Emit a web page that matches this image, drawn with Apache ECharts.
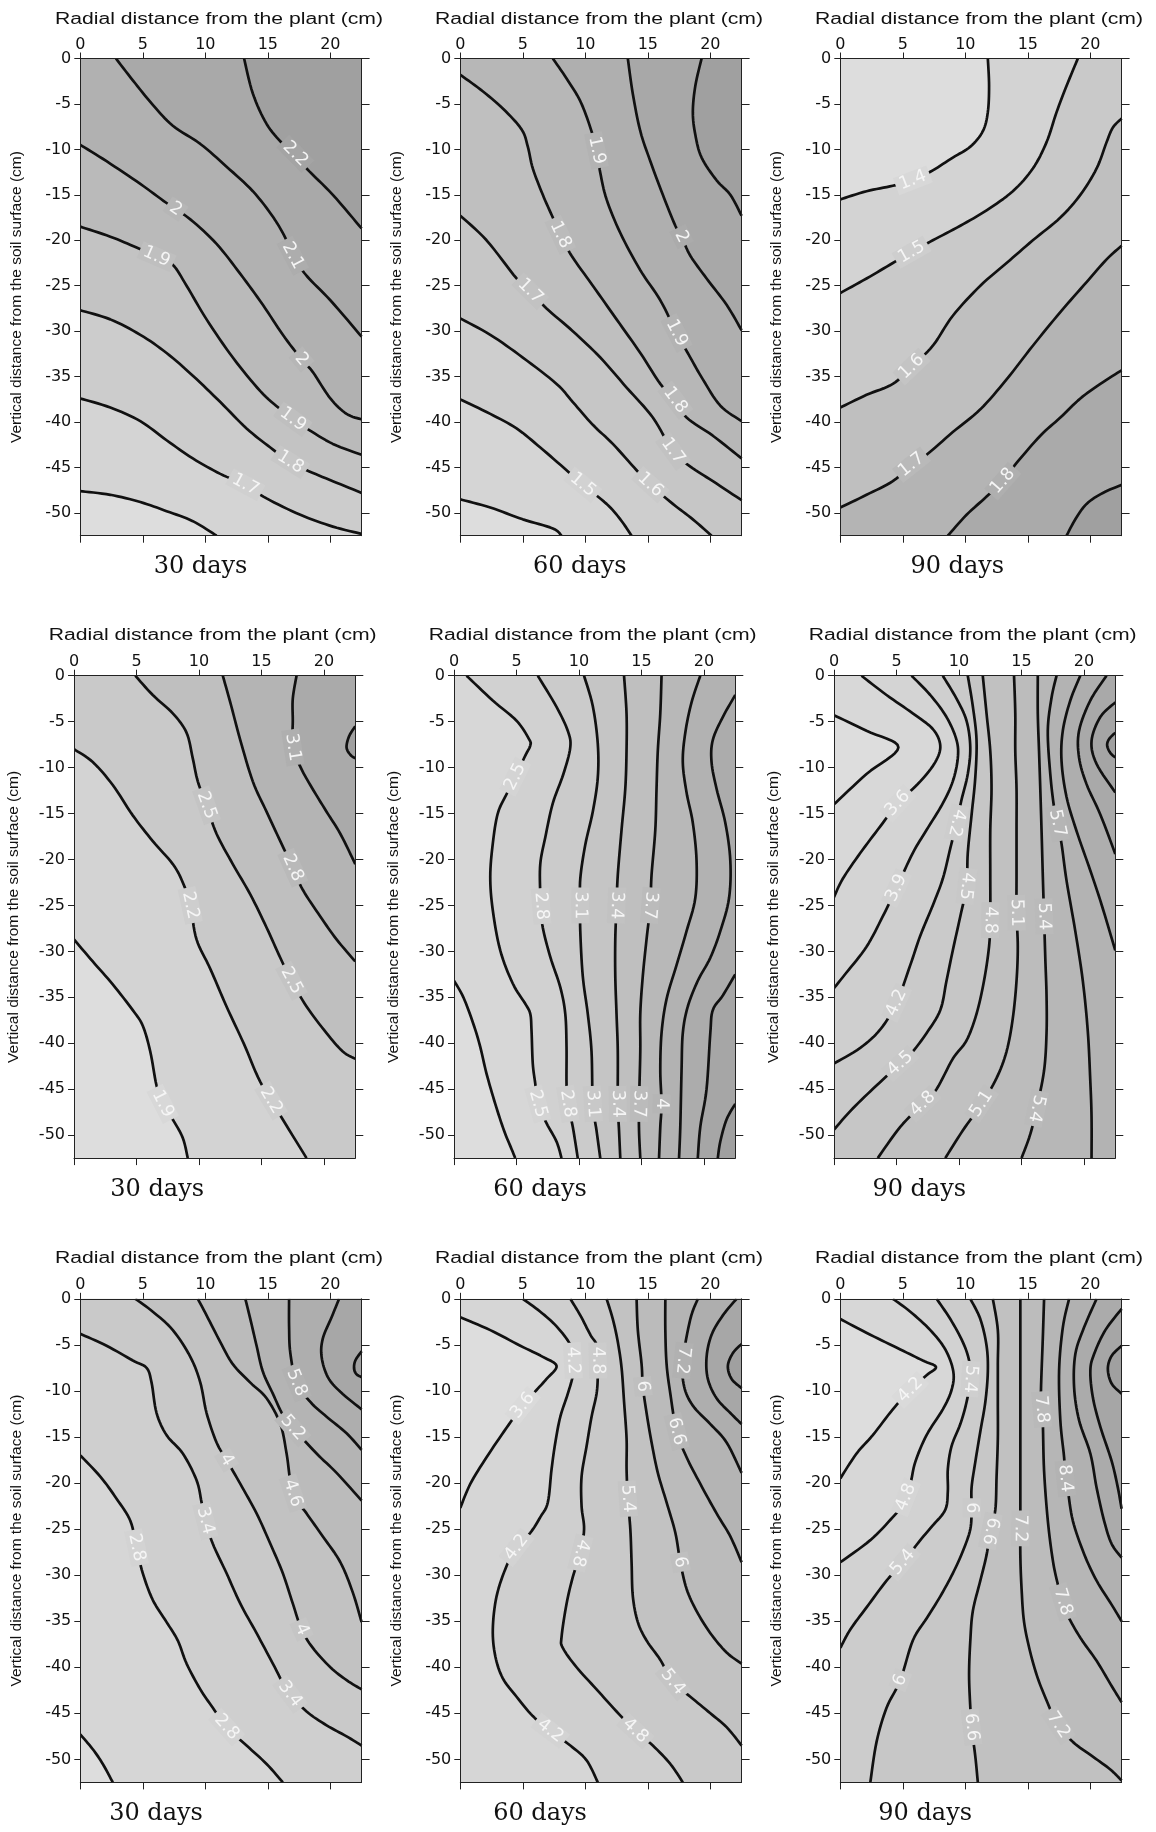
<!DOCTYPE html>
<html><head><meta charset="utf-8">
<script src="https://cdn.jsdelivr.net/npm/echarts@6/dist/echarts.min.js"></script>
<style>html,body{margin:0;padding:0;background:#fff}#c{width:1156px;height:1832px}</style>
</head><body><div id="c"></div><script>
// ---------- axis / text data ----------
const XMAX = 22.5, YMIN = -52.5;
const xTicks = [0, 5, 10, 15, 20];
const yTicks = [0, -5, -10, -15, -20, -25, -30, -35, -40, -45, -50];
const captions = ['30 days', '60 days', '90 days', '30 days', '60 days', '90 days', '30 days', '60 days', '90 days'];
const titleText = 'Radial distance from the plant (cm)';
const yNameText = 'Vertical distance from the soil surface (cm)';

// ---------- panel 1 (row 1, 30 days) ----------
const p1Levels = [1.6, 1.7, 1.8, 1.9, 2.0, 2.1, 2.2];
const p1Lines = [
  [[0,-47.6],[2.4,-48.0],[4.8,-48.8],[6.9,-49.8],[9.0,-50.9],[10.9,-52.5]],
  [[0,-37.4],[2.4,-38.4],[4.8,-39.9],[6.9,-42.0],[9.0,-44.0],[11.2,-45.7],[13.2,-46.9],[14.9,-48.4],[17.6,-50.2],[20.2,-51.5],[22.5,-52.3]],
  [[0,-27.7],[2.4,-28.7],[4.8,-30.4],[6.9,-32.4],[9.0,-34.9],[11.2,-37.8],[13.3,-40.7],[15.2,-42.8],[16.8,-44.4],[18.1,-45.3],[20.2,-46.5],[22.5,-47.8]],
  [[0,-18.5],[2.4,-19.6],[4.5,-20.8],[6.1,-21.8],[7.4,-22.7],[8.5,-25.0],[10.1,-28.7],[12.2,-32.9],[14.4,-36.6],[16.0,-38.6],[17.0,-39.7],[18.1,-40.7],[20.2,-42.4],[22.5,-43.6]],
  [[0,-9.5],[2.1,-11.3],[4.8,-13.8],[6.9,-15.9],[8.8,-17.7],[10.9,-20.4],[12.8,-23.7],[14.6,-27.1],[16.2,-30.4],[17.7,-33.1],[18.6,-34.5],[20.0,-37.4],[21.3,-39.1],[22.5,-39.7]],
  [[2.85,0],[4.2,-2.4],[5.8,-5.1],[7.4,-7.4],[9.6,-9.4],[11.7,-11.9],[13.8,-14.6],[15.45,-17.5],[16.5,-20.0],[17.0,-21.7],[18.1,-23.9],[20.0,-26.6],[22.5,-30.6]],
  [[13.1,0],[13.8,-3.85],[14.9,-7.2],[16.2,-9.4],[17.2,-10.5],[18.1,-12.1],[20.2,-15.0],[22.5,-18.7]]
];
const p1Labels = [[2.2,17.2,-10.5],[2.0,7.8,-16.5],[1.9,6.1,-21.9],[2.1,17.0,-21.7],[2.0,17.7,-33.1],[1.9,17.0,-39.7],[1.8,16.8,-44.4],[1.7,13.2,-46.9]];

// ---------- panel 2 (row 1, 60 days) ----------
const p2Levels = [1.4, 1.5, 1.6, 1.7, 1.8, 1.9, 2.0, 2.1];
const p2Lines = [
  [[0,-48.5],[2.4,-49.4],[5.0,-50.7],[7.4,-51.7],[8.1,-52.5]],
  [[0,-37.5],[2.4,-39.1],[4.5,-40.7],[6.4,-42.8],[8.5,-45.3],[9.8,-46.9],[11.7,-49.0],[12.8,-50.7],[13.7,-52.5]],
  [[0,-28.6],[2.4,-30.4],[5.0,-32.9],[7.7,-35.8],[9.0,-37.8],[10.6,-40.3],[12.2,-42.4],[14.1,-45.3],[15.2,-46.9],[17.0,-49.0],[18.6,-50.7],[20.1,-52.5]],
  [[0,-17.3],[2.1,-20.0],[4.5,-24.2],[5.6,-25.6],[6.9,-27.5],[9.0,-30.0],[11.2,-32.9],[13.3,-36.2],[15.4,-39.5],[17.0,-43.2],[18.4,-44.9],[20.2,-46.5],[22.5,-48.6]],
  [[0,-1.8],[1.6,-3.4],[3.4,-5.5],[4.9,-7.8],[5.4,-9.7],[5.8,-12.1],[6.6,-15.0],[7.4,-17.5],[8.0,-19.4],[8.9,-21.7],[10.6,-25.0],[12.5,-28.7],[14.4,-32.4],[16.0,-35.8],[17.2,-37.6],[18.1,-39.5],[20.2,-41.5],[22.5,-44.0]],
  [[7.4,0],[8.5,-2.2],[9.6,-4.7],[10.4,-7.6],[10.9,-10.1],[11.2,-12.6],[11.7,-15.5],[12.8,-19.2],[14.4,-23.3],[16.0,-26.6],[17.3,-30.2],[18.4,-32.9],[19.4,-35.3],[20.8,-38.2],[22.5,-39.9]],
  [[13.4,0],[13.8,-3.9],[14.4,-8.0],[15.2,-11.3],[16.2,-15.0],[17.2,-18.4],[17.7,-19.6],[18.4,-21.7],[19.7,-24.2],[21.3,-27.1],[22.5,-29.9]],
  [[19.3,0],[18.8,-3.0],[18.6,-5.9],[18.8,-8.4],[19.3,-10.9],[20.5,-13.4],[21.6,-15.0],[22.5,-17.3]]
];
const p2Labels = [[1.9,10.9,-10.1],[1.8,8.0,-19.4],[2.0,17.7,-19.6],[1.7,5.6,-25.6],[1.9,17.3,-30.2],[1.8,17.2,-37.6],[1.7,17.0,-43.2],[1.6,15.2,-46.9],[1.5,9.8,-46.9]];

// ---------- panel 3 (row 1, 90 days) ----------
const p3Levels = [1.4, 1.5, 1.6, 1.7, 1.8, 1.9];
const p3Lines = [
  [[11.8,0],[11.9,-3.0],[11.8,-5.9],[11.4,-8.0],[10.4,-9.7],[9.0,-10.9],[7.4,-12.3],[5.8,-13.4],[4.2,-14.0],[2.1,-14.6],[0,-15.5]],
  [[19.0,0],[18.1,-3.0],[17.3,-5.9],[16.5,-9.2],[15.4,-12.1],[13.8,-14.6],[11.7,-16.7],[9.6,-18.4],[7.4,-20.0],[5.7,-21.3],[4.2,-22.5],[2.1,-24.2],[0,-25.8]],
  [[22.5,-6.6],[21.8,-7.6],[21.3,-9.2],[20.5,-12.1],[19.2,-15.0],[17.6,-17.5],[15.4,-20.0],[13.3,-22.5],[11.2,-25.0],[9.0,-28.3],[7.4,-31.6],[5.7,-33.9],[4.2,-35.8],[2.1,-37.0],[0,-38.4]],
  [[22.5,-20.6],[21.3,-22.1],[19.7,-24.6],[17.6,-27.9],[15.4,-31.6],[13.3,-35.3],[11.2,-38.6],[9.0,-41.1],[6.9,-43.6],[5.7,-44.7],[4.2,-46.5],[2.1,-48.0],[0,-49.4]],
  [[22.5,-34.3],[20.8,-35.8],[19.2,-37.4],[17.6,-39.5],[16.0,-41.5],[14.1,-44.5],[13.0,-46.5],[11.7,-48.2],[10.1,-50.2],[8.6,-52.5]],
  [[22.5,-46.9],[21.0,-47.8],[19.7,-49.0],[18.8,-50.7],[18.1,-52.5]]
];
const p3Labels = [[1.4,5.8,-13.4],[1.5,5.7,-21.3],[1.6,5.7,-33.9],[1.7,5.7,-44.7],[1.8,13.0,-46.5]];

// ---------- panel 4 (row 2, 30 days) ----------
const p4Levels = [1.9, 2.2, 2.5, 2.8, 3.1, 3.4];
const p4Lines = [
  [[0,-28.7],[1.5,-31.1],[3.1,-33.6],[4.7,-36.4],[5.5,-38.1],[6.1,-40.9],[6.6,-44.6],[7.1,-46.6],[7.9,-48.3],[8.7,-50.3],[9.1,-52.5]],
  [[0,-8.0],[1.5,-9.4],[3.1,-11.9],[4.7,-15.2],[6.3,-18.0],[7.9,-20.5],[8.7,-22.5],[9.3,-25.0],[9.8,-28.7],[10.9,-31.9],[12.2,-36.0],[13.6,-40.1],[14.9,-44.2],[16.7,-48.3],[18.6,-52.5]],
  [[4.9,0],[6.3,-2.1],[7.9,-4.1],[9.0,-6.2],[9.5,-9.0],[9.9,-11.5],[10.6,-14.1],[11.4,-17.2],[12.7,-20.5],[14.1,-23.8],[15.4,-27.4],[16.5,-30.7],[17.4,-33.2],[18.6,-36.0],[20.2,-38.9],[21.5,-40.9],[22.5,-41.7]],
  [[11.9,0],[12.5,-2.9],[13.3,-7.0],[14.3,-11.5],[15.4,-14.8],[16.5,-18.0],[17.5,-20.9],[18.3,-23.3],[19.7,-26.2],[21.0,-28.7],[22.5,-31.1]],
  [[17.8,0],[17.5,-2.5],[17.5,-4.9],[17.5,-7.8],[18.1,-9.9],[18.9,-11.9],[20.2,-14.8],[21.3,-17.2],[22.5,-20.5]],
  [[22.5,-5.5],[22.0,-6.6],[21.8,-7.8],[22.1,-8.6],[22.5,-9.0]]
];
const p4Labels = [[3.1,17.5,-7.8],[2.5,10.6,-14.1],[2.8,17.5,-20.9],[2.2,9.3,-25.0],[2.5,17.4,-33.2],[1.9,7.1,-46.6],[2.2,15.8,-46.2]];

// ---------- panel 5 (row 2, 60 days) ----------
const p5Levels = [2.2, 2.5, 2.8, 3.1, 3.4, 3.7, 4.0, 4.3, 4.6, 4.9];
const p5Lines = [
  [[0,-33.2],[0.75,-35.0],[1.55,-37.9],[2.1,-40.4],[2.6,-43.3],[3.3,-46.6],[4.0,-49.5],[4.6,-51.5],[4.9,-52.5]],
  [[1.0,0],[3.1,-2.7],[5.0,-4.9],[6.0,-6.9],[6.1,-7.6],[5.7,-8.7],[4.9,-11.0],[4.2,-12.9],[3.5,-15.0],[3.1,-18.3],[2.9,-21.9],[3.1,-25.5],[3.7,-29.9],[4.7,-33.5],[5.7,-35.7],[6.1,-36.8],[6.2,-38.6],[6.3,-42.2],[6.5,-44.4],[6.7,-46.6],[7.4,-48.7],[8.2,-50.7],[8.6,-52.5]],
  [[6.7,0],[8.2,-3.4],[9.1,-6.0],[9.3,-7.8],[8.75,-10.7],[7.9,-13.9],[7.3,-17.6],[6.9,-20.5],[6.9,-23.7],[7.0,-25.5],[7.1,-27.4],[7.7,-30.6],[8.5,-33.9],[8.9,-36.8],[9.0,-40.4],[9.0,-44.4],[9.1,-46.6],[9.5,-49.1],[9.9,-52.5]],
  [[10.4,0],[11.1,-3.3],[11.5,-7.4],[11.5,-11.1],[11.1,-14.8],[10.5,-18.4],[10.1,-22.1],[10.1,-25.0],[10.1,-27.8],[10.3,-32.7],[10.7,-36.8],[11.0,-40.9],[11.1,-46.6],[11.4,-49.5],[11.7,-52.5]],
  [[13.6,0],[13.8,-4.1],[13.8,-8.2],[13.7,-12.3],[13.4,-16.8],[13.1,-21.7],[13.0,-25.0],[12.9,-28.7],[12.9,-32.7],[13.0,-36.8],[13.1,-40.9],[13.1,-46.6],[13.2,-49.5],[13.3,-52.5]],
  [[16.6,0],[16.5,-4.1],[16.3,-8.2],[16.2,-12.3],[16.1,-16.8],[15.8,-21.7],[15.7,-25.0],[15.4,-28.7],[15.1,-32.7],[14.9,-36.8],[14.9,-40.9],[14.8,-46.6],[14.8,-49.5],[14.9,-52.5]],
  [[19.7,0],[19.0,-2.9],[18.5,-6.2],[18.3,-9.4],[18.6,-12.7],[19.1,-16.0],[19.4,-20.1],[19.3,-24.2],[18.6,-27.8],[17.8,-31.5],[17.0,-35.2],[16.6,-38.9],[16.5,-43.0],[16.6,-46.6],[16.5,-49.1],[16.4,-52.5]],
  [[22.5,-2.1],[21.5,-4.5],[20.7,-7.0],[20.6,-9.4],[21.0,-12.3],[21.7,-16.0],[22.1,-20.1],[22.0,-24.2],[21.3,-27.8],[20.5,-30.7],[19.5,-33.2],[18.7,-36.0],[18.3,-38.9],[18.2,-43.0],[18.1,-49.1],[18.0,-52.5]],
  [[22.5,-32.5],[21.5,-34.8],[20.7,-36.4],[20.5,-38.9],[20.2,-45.0],[19.7,-49.1],[19.5,-52.5]],
  [[22.5,-46.6],[21.8,-48.3],[21.3,-50.7],[21.1,-52.5]]
];
const p5Labels = [[2.5,4.9,-11.0],[2.8,6.9,-25.0],[3.1,10.1,-25.0],[3.4,13.0,-25.0],[3.7,15.7,-25.0],
  [2.5,6.7,-46.6],[2.8,9.1,-46.6],[3.1,11.1,-46.6],[3.4,13.1,-46.6],[3.7,14.8,-46.6],[4.0,16.6,-46.6]];

// ---------- panel 6 (row 2, 90 days) ----------
const p6Levels = [3.3, 3.6, 3.9, 4.2, 4.5, 4.8, 5.1, 5.4, 5.7, 6.0, 6.3, 6.6, 6.9];
const p6Lines = [
  [[0,-4.3],[2.6,-6.0],[5.15,-7.8],[2.6,-10.7],[0,-14.0]],
  [[2.2,0],[4.2,-2.1],[6.3,-4.1],[7.9,-5.8],[8.5,-7.6],[8.1,-9.4],[6.9,-11.5],[5.1,-13.9],[3.7,-16.4],[2.1,-19.3],[0.7,-22.1],[0,-24.1]],
  [[6.2,0],[7.7,-2.1],[9.0,-4.5],[9.8,-7.0],[9.9,-9.0],[9.5,-11.5],[8.7,-13.9],[7.4,-16.8],[6.3,-19.3],[5.0,-23.1],[3.9,-26.2],[2.6,-29.5],[1.0,-32.3],[0,-34.0]],
  [[8.7,0],[9.8,-2.5],[10.6,-4.9],[10.9,-7.8],[10.7,-10.7],[10.2,-13.5],[9.8,-16.0],[9.3,-18.8],[8.7,-22.1],[7.9,-25.0],[6.9,-28.3],[6.1,-31.5],[5.0,-35.6],[3.7,-38.5],[2.1,-40.5],[0,-42.2]],
  [[10.7,0],[11.1,-3.3],[11.4,-7.0],[11.3,-11.1],[11.0,-15.2],[10.7,-19.3],[10.6,-22.9],[10.1,-26.2],[9.5,-29.9],[9.0,-33.2],[8.5,-36.4],[7.4,-38.9],[6.3,-40.9],[5.3,-42.2],[3.4,-44.6],[1.5,-47.1],[0,-49.4]],
  [[11.9,0],[12.2,-4.1],[12.5,-8.2],[12.6,-12.3],[12.5,-16.8],[12.5,-21.7],[12.5,-26.6],[12.4,-29.5],[12.0,-33.2],[11.4,-36.8],[10.6,-39.7],[9.5,-41.7],[8.2,-45.0],[7.1,-46.6],[5.3,-49.1],[3.5,-52.5]],
  [[14.4,0],[14.5,-4.1],[14.5,-8.2],[14.6,-12.3],[14.6,-16.8],[14.6,-21.7],[14.6,-25.8],[14.7,-29.5],[14.6,-33.2],[14.3,-37.3],[13.8,-40.9],[13.0,-43.8],[11.8,-46.6],[10.3,-49.5],[8.9,-52.5]],
  [[16.3,0],[16.3,-4.1],[16.4,-8.2],[16.5,-12.3],[16.6,-16.8],[16.7,-21.7],[16.8,-26.2],[16.9,-30.7],[17.0,-34.8],[17.0,-38.9],[16.8,-43.0],[16.2,-47.1],[15.7,-49.9],[15.0,-52.5]],
  [[17.8,0],[17.4,-2.4],[17.1,-6.0],[17.3,-10.7],[17.6,-14.3],[17.9,-16.3],[18.2,-18.3],[18.6,-22.3],[19.3,-27.8],[19.9,-33.2],[20.3,-38.7],[20.5,-44.1],[20.6,-48.0],[20.6,-52.5]],
  [[19.7,0],[18.9,-2.7],[18.3,-6.0],[18.2,-9.3],[18.6,-13.2],[19.4,-16.9],[20.5,-21.2],[21.4,-24.9],[22.5,-29.9]],
  [[21.8,0],[20.5,-2.7],[19.6,-6.0],[19.6,-8.9],[20.2,-11.8],[21.3,-15.1],[22.5,-19.4]],
  [[22.5,-2.9],[21.3,-4.5],[20.6,-7.1],[21.0,-9.6],[22.5,-12.7]],
  [[22.5,-6.2],[22.0,-6.9],[21.85,-7.6],[22.1,-8.4],[22.5,-8.9]]
];
const p6Labels = [[3.6,5.1,-13.9],[4.2,9.8,-16.0],[5.7,17.8,-16.0],[3.9,5.0,-23.1],[4.5,10.6,-22.9],[4.8,12.5,-26.6],
  [5.1,14.6,-25.8],[5.4,16.8,-26.2],[4.2,5.0,-35.6],[4.5,5.3,-42.2],[4.8,7.1,-46.6],[5.1,11.8,-46.6],[5.4,16.2,-47.1]];

// ---------- panel 7 (row 3, 30 days) ----------
const p7Levels = [2.2, 2.8, 3.4, 4.0, 4.6, 5.2, 5.8, 6.4, 7.0];
const p7Lines = [
  [[0,-47.3],[1.0,-48.9],[1.8,-50.5],[2.6,-52.5]],
  [[0,-17.0],[1.6,-19.3],[2.9,-21.7],[4.0,-24.1],[4.5,-27.0],[5.0,-29.8],[5.8,-32.7],[6.9,-35.1],[7.8,-37.1],[8.5,-39.6],[9.6,-42.4],[10.6,-44.4],[11.7,-46.5],[13.3,-48.5],[14.9,-50.5],[16.2,-52.5]],
  [[0,-3.8],[2.1,-5.1],[4.2,-6.7],[5.3,-7.5],[5.7,-9.1],[6.1,-12.4],[6.9,-14.8],[8.2,-16.8],[9.3,-19.7],[9.7,-22.1],[10.0,-24.1],[10.6,-26.6],[11.7,-29.8],[12.8,-33.1],[14.1,-36.3],[15.4,-39.6],[16.6,-42.6],[18.1,-44.8],[19.7,-46.3],[21.3,-47.5],[22.5,-48.5]],
  [[4.4,0],[5.8,-1.4],[7.4,-3.4],[8.8,-6.3],[9.6,-9.1],[10.1,-12.4],[10.9,-15.6],[11.7,-17.5],[12.8,-20.1],[14.1,-23.3],[15.2,-26.6],[16.2,-29.8],[17.0,-33.1],[17.7,-35.9],[18.6,-37.9],[20.0,-40.0],[21.3,-41.4],[22.5,-42.4]],
  [[9.4,0],[10.1,-1.8],[11.2,-4.7],[12.2,-7.1],[13.6,-9.1],[14.9,-10.8],[16.0,-13.6],[16.5,-16.8],[17.0,-21.1],[18.1,-23.3],[19.4,-25.8],[20.8,-28.6],[21.8,-31.9],[22.5,-35.1]],
  [[13.2,0],[13.6,-2.2],[14.1,-5.1],[14.6,-7.9],[15.4,-10.3],[16.2,-12.6],[17.0,-14.0],[18.9,-16.8],[20.5,-18.9],[22.5,-21.9]],
  [[16.7,0],[16.7,-3.0],[16.8,-5.9],[17.3,-9.1],[18.4,-11.2],[19.7,-12.8],[21.3,-14.6],[22.5,-16.4]],
  [[20.7,0],[20.1,-2.0],[19.4,-4.3],[19.3,-6.3],[19.8,-8.5],[20.8,-10.1],[22.5,-12.0]],
  [[22.5,-5.7],[22.0,-6.7],[21.9,-7.6],[22.1,-8.2],[22.5,-8.5]]
];
const p7Labels = [[5.8,17.3,-9.1],[5.2,17.0,-14.0],[4.0,11.7,-17.5],[4.6,17.0,-21.1],[3.4,10.0,-24.1],[2.8,4.5,-27.0],[4.0,17.7,-35.9],[3.4,16.8,-43.0],[2.8,11.7,-46.5]];

// ---------- panel 8 (row 3, 60 days) ----------
const p8Levels = [3.6, 4.2, 4.8, 5.4, 6.0, 6.6, 7.2, 7.8, 8.4];
const p8Lines = [
  [[0,-2.0],[2.4,-3.4],[4.8,-5.1],[6.6,-6.3],[7.7,-7.3],[6.9,-8.7],[6.1,-9.9],[5.0,-11.6],[3.7,-14.0],[2.1,-17.2],[0.8,-20.1],[0,-22.7]],
  [[5.0,0],[6.4,-1.4],[7.7,-3.0],[8.8,-5.0],[9.0,-6.7],[9.0,-8.3],[8.6,-10.3],[8.0,-12.8],[7.6,-15.6],[7.3,-18.5],[7.0,-22.1],[6.4,-23.7],[5.6,-25.4],[4.5,-27.0],[3.7,-29.0],[2.9,-32.3],[2.6,-35.9],[2.8,-38.8],[3.4,-41.2],[4.5,-43.2],[5.8,-45.3],[7.2,-46.9],[8.8,-48.5],[10.1,-50.1],[11.0,-52.5]],
  [[8.8,0],[9.6,-1.8],[10.4,-3.9],[10.9,-5.0],[11.0,-6.7],[11.0,-8.3],[10.9,-10.3],[10.5,-12.8],[10.1,-16.0],[9.7,-19.3],[9.7,-22.5],[9.9,-25.0],[9.6,-27.6],[9.0,-30.2],[8.5,-33.1],[8.1,-36.7],[8.2,-37.9],[9.3,-40.0],[10.9,-42.4],[12.5,-44.8],[14.0,-46.9],[15.4,-48.5],[16.8,-50.5],[17.8,-52.5]],
  [[11.7,0],[12.2,-2.2],[12.6,-4.7],[12.9,-7.5],[13.1,-11.2],[13.3,-15.2],[13.3,-18.5],[13.4,-21.7],[13.6,-25.0],[13.7,-28.6],[13.8,-32.3],[14.2,-35.1],[14.9,-37.1],[16.0,-39.2],[17.0,-41.6],[18.4,-43.2],[20.0,-45.0],[21.3,-46.5],[22.5,-48.5]],
  [[14.1,0],[14.2,-3.4],[14.5,-7.1],[14.6,-9.5],[14.9,-12.4],[15.3,-15.6],[15.8,-18.9],[16.5,-22.1],[17.2,-25.4],[17.6,-28.6],[18.1,-31.5],[18.9,-33.9],[20.0,-36.3],[21.3,-38.4],[22.5,-39.6]],
  [[16.4,0],[16.4,-3.4],[16.5,-7.1],[16.8,-10.3],[17.3,-14.4],[18.1,-17.2],[19.2,-20.1],[20.5,-23.3],[21.6,-25.8],[22.5,-28.6]],
  [[19.0,0],[18.4,-2.2],[17.8,-6.7],[17.9,-9.5],[18.6,-11.6],[20.0,-13.6],[21.3,-15.6],[22.5,-18.9]],
  [[22.1,0],[21.0,-1.8],[20.1,-3.9],[19.7,-6.3],[19.8,-8.7],[20.5,-10.8],[21.6,-12.4],[22.5,-13.6]],
  [[22.5,-4.9],[21.8,-5.9],[21.4,-7.3],[21.7,-8.7],[22.5,-9.7]]
];
const p8Labels = [[3.6,5.0,-11.6],[4.2,9.0,-6.7],[4.8,11.0,-6.7],[6.0,14.6,-9.5],[7.2,17.8,-6.7],[6.6,17.3,-14.4],[5.4,13.4,-21.7],
  [4.2,4.5,-27.0],[4.8,9.6,-27.6],[6.0,17.6,-28.6],[5.4,17.0,-41.6],[4.2,7.2,-46.9],[4.8,14.0,-46.9]];

// ---------- panel 9 (row 3, 90 days) ----------
const p9Levels = [4.2, 4.8, 5.4, 6.0, 6.6, 7.2, 7.8, 8.4, 9.0, 9.6, 10.2];
const p9Lines = [
  [[0,-2.2],[2.4,-3.9],[4.8,-5.5],[6.6,-6.7],[7.65,-7.4],[6.9,-8.3],[5.6,-9.9],[4.2,-12.0],[2.6,-14.8],[1.3,-16.8],[0,-19.5]],
  [[4.2,0],[5.6,-1.4],[7.2,-3.4],[8.4,-5.5],[9.04,-7.9],[8.9,-9.9],[8.2,-12.0],[6.9,-14.8],[6.0,-17.7],[5.6,-20.1],[5.0,-22.3],[4.2,-23.7],[2.4,-26.2],[0,-28.6]],
  [[7.7,0],[8.8,-2.2],[9.8,-4.7],[10.3,-6.7],[10.4,-8.7],[10.1,-11.2],[9.6,-13.6],[8.9,-16.0],[8.6,-18.5],[8.6,-20.9],[8.4,-22.9],[7.4,-24.6],[6.4,-26.2],[5.0,-28.6],[3.7,-30.6],[2.1,-33.5],[0.8,-35.9],[0,-37.9]],
  [[10.4,0],[11.2,-2.2],[11.7,-5.1],[11.8,-7.9],[11.6,-11.2],[11.2,-14.4],[10.8,-17.7],[10.5,-20.5],[10.5,-22.7],[10.4,-25.0],[9.8,-27.4],[9.0,-29.8],[8.0,-32.3],[6.9,-34.7],[5.8,-37.1],[4.8,-41.4],[3.7,-44.4],[2.9,-48.1],[2.4,-52.5]],
  [[12.2,0],[12.6,-3.4],[12.6,-7.1],[12.6,-11.2],[12.6,-15.2],[12.5,-19.3],[12.4,-22.9],[12.0,-25.2],[11.7,-27.8],[11.2,-30.6],[10.6,-33.9],[10.4,-37.1],[10.3,-40.8],[10.4,-44.4],[10.5,-46.5],[10.8,-49.7],[11.0,-52.5]],
  [[14.4,0],[14.4,-3.9],[14.4,-7.9],[14.4,-12.0],[14.4,-16.0],[14.4,-20.1],[14.4,-23.3],[14.4,-27.8],[14.5,-31.5],[14.7,-35.1],[15.2,-38.4],[15.8,-41.2],[16.5,-43.6],[17.3,-46.0],[18.6,-48.1],[20.2,-49.7],[21.6,-51.1],[22.5,-52.3]],
  [[16.3,0],[16.2,-4.2],[16.05,-10.0],[16.1,-12.0],[16.2,-13.6],[16.3,-18.7],[16.6,-24.1],[17.0,-28.4],[17.4,-31.0],[17.8,-32.9],[18.2,-34.4],[19.2,-36.8],[20.5,-39.3],[21.6,-41.8],[22.5,-43.8]],
  [[18.3,0],[17.8,-3.1],[17.5,-7.8],[17.6,-13.2],[17.9,-17.2],[18.0,-19.5],[18.2,-20.8],[18.6,-24.1],[19.5,-27.7],[20.5,-30.6],[21.7,-33.2],[22.5,-35.0]],
  [[20.5,0],[19.5,-3.1],[18.8,-6.0],[18.7,-9.6],[19.1,-13.2],[20.0,-16.8],[20.5,-20.5],[21.1,-24.1],[21.7,-26.6],[22.5,-28.1]],
  [[22.5,-1.1],[21.2,-3.4],[20.3,-6.0],[20.0,-7.8],[20.2,-10.7],[20.8,-13.9],[21.7,-17.6],[22.2,-20.5],[22.5,-22.8]],
  [[22.5,-5.1],[21.7,-6.2],[21.4,-7.6],[21.7,-9.2],[22.5,-10.3]]
];
const p9Labels = [[4.2,5.6,-9.9],[5.4,10.4,-8.7],[7.8,16.05,-12.0],[8.4,17.95,-19.5],[4.8,5.3,-21.7],[6.0,10.5,-22.7],[6.6,12.0,-25.2],
  [7.2,14.4,-25.2],[5.4,5.0,-28.6],[7.8,17.7,-32.9],[6.0,4.8,-41.4],[6.6,10.4,-46.5],[7.2,17.3,-46.3]];

// ---------- layout ----------
const rowTops = [58.5, 675.7, 1298.8];
const rowHeights = [477.2, 482.4, 483.6];
const colLefts = [[80.3, 460.3, 840.3], [74, 454, 834], [80.3, 460.3, 840.3]];
const PLOT_W = 281.3;
const titleYs = [19.5, 635.5, 1259];
const captionXY = [[200.5,567],[579.8,567],[957.3,567],[157.2,1190],[540,1190],[919.3,1190],[156,1814],[540,1814],[925.2,1814]];

const panels = [
  {levels:p1Levels, lines:p1Lines, labels:p1Labels},
  {levels:p2Levels, lines:p2Lines, labels:p2Labels},
  {levels:p3Levels, lines:p3Lines, labels:p3Labels},
  {levels:p4Levels, lines:p4Lines, labels:p4Labels},
  {levels:p5Levels, lines:p5Lines, labels:p5Labels},
  {levels:p6Levels, lines:p6Lines, labels:p6Labels},
  {levels:p7Levels, lines:p7Lines, labels:p7Labels},
  {levels:p8Levels, lines:p8Lines, labels:p8Labels},
  {levels:p9Levels, lines:p9Lines, labels:p9Labels}
];

// ---------- geometry helpers ----------
const H = -YMIN, PER = 2 * (XMAX + H);
const CORNERS = [[0,[0,0]],[XMAX,[XMAX,0]],[XMAX+H,[XMAX,YMIN]],[2*XMAX+H,[0,YMIN]]];
function perimT(p) {
  const x = p[0], y = p[1], e = 0.06;
  if (Math.abs(y) < e) return x;
  if (Math.abs(x - XMAX) < e) return XMAX - y;
  if (Math.abs(y - YMIN) < e) return XMAX + H + (XMAX - x);
  return 2 * XMAX + H + (y - YMIN);
}
function mod(a) { return ((a % PER) + PER) % PER; }
function cornerWalk(tFrom, tTo, dir) {
  const d = mod(dir > 0 ? tTo - tFrom : tFrom - tTo);
  return CORNERS.map(c => [mod(dir > 0 ? c[0] - tFrom : tFrom - c[0]), c[1]])
    .filter(c => c[0] > 1e-9 && c[0] < d - 1e-9)
    .sort((a, b) => a[0] - b[0]).map(c => c[1]);
}
function inside(pt, poly) {
  let inn = false;
  for (let i = 0, j = poly.length - 1; i < poly.length; j = i++) {
    const xi = poly[i][0], yi = poly[i][1], xj = poly[j][0], yj = poly[j][1];
    if (((yi > pt[1]) !== (yj > pt[1])) && (pt[0] < (xj - xi) * (pt[1] - yi) / (yj - yi) + xi)) inn = !inn;
  }
  return inn;
}
function grey(v) { v = Math.round(v); return 'rgb(' + v + ',' + v + ',' + v + ')'; }
panels.forEach(p => {
  const uniq = Array.from(new Set(p.levels)).sort((a, b) => a - b);
  const n = uniq.length + 1;
  p.greyVals = [];
  for (let k = 0; k < n; k++) p.greyVals.push(221 - (221 - 160) * k / (n - 1));
  p.rank = p.levels.map(l => uniq.indexOf(l));
  p.order = p.levels.map((l, i) => i).sort((a, b) => p.levels[a] - p.levels[b]);
  p.closing = p.lines.map((pts, i) => {
    const L = p.levels[i];
    const tS = perimT(pts[0]), tE = perimT(pts[pts.length - 1]);
    const A = cornerWalk(tE, tS, 1), B = cornerWalk(tE, tS, -1);
    let j = -1, best = Infinity;
    p.levels.forEach((l2, k) => { if (l2 !== L && Math.abs(l2 - L) < best) { best = Math.abs(l2 - L); j = k; } });
    const tl = p.lines[j];
    const tp = tl[Math.floor(tl.length / 2)];
    const inA = inside(tp, pts.concat(A));
    return ((p.levels[j] > L) === inA) ? A : B;
  });
});

function catmull(pts, seg) {
  if (pts.length < 3) return pts.slice();
  const out = [];
  const n = pts.length;
  for (let i = 0; i < n - 1; i++) {
    const p0 = pts[Math.max(i - 1, 0)], p1 = pts[i], p2 = pts[i + 1], p3 = pts[Math.min(i + 2, n - 1)];
    for (let s = 0; s < seg; s++) {
      const t = s / seg, t2 = t * t, t3 = t2 * t;
      const f = k => 0.5 * (2 * p1[k] + (-p0[k] + p2[k]) * t + (2 * p0[k] - 5 * p1[k] + 4 * p2[k] - p3[k]) * t2 + (-p0[k] + 3 * p1[k] - 3 * p2[k] + p3[k]) * t3);
      out.push([f(0), f(1)]);
    }
  }
  out.push(pts[n - 1]);
  return out;
}

function makeRender(pi) {
  const p = panels[pi];
  return function (params, api) {
    const ch = [];
    const c0 = api.coord([0, 0]), c1 = api.coord([XMAX, YMIN]);
    ch.push({type: 'rect', shape: {x: c0[0], y: c0[1], width: c1[0] - c0[0], height: c1[1] - c0[1]}, style: {fill: grey(p.greyVals[0])}});
    const sm = p.lines.map(l => catmull(l.map(q => api.coord(q)), 8));
    p.order.forEach(i => {
      const poly = sm[i].concat(p.closing[i].map(q => api.coord(q)));
      ch.push({type: 'polygon', shape: {points: poly}, style: {fill: grey(p.greyVals[p.rank[i] + 1])}});
    });
    sm.forEach(pts => ch.push({type: 'polyline', shape: {points: pts},
      style: {stroke: '#111111', lineWidth: 2.7, fill: null, lineJoin: 'round', lineCap: 'butt'}}));
    p.labels.forEach(lb => {
      const li = p.levels.indexOf(lb[0]);
      if (li < 0) return;
      const pts = sm[li];
      const c = api.coord([lb[1], lb[2]]);
      let k = 0, bd = Infinity;
      pts.forEach((q, m) => { const d = (q[0] - c[0]) ** 2 + (q[1] - c[1]) ** 2; if (d < bd) { bd = d; k = m; } });
      const a0 = pts[Math.max(k - 4, 0)], a1 = pts[Math.min(k + 4, pts.length - 1)];
      let ang = Math.atan2(a1[1] - a0[1], a1[0] - a0[0]);
      const D = 0.35;
      while (ang >= Math.PI / 2 + D) ang -= Math.PI;
      while (ang < -Math.PI / 2 + D) ang += Math.PI;
      const r = p.rank[li];
      const bg = grey((p.greyVals[r] + p.greyVals[r + 1]) / 2);
      ch.push({type: 'text', x: pts[k][0], y: pts[k][1], rotation: -ang,
        style: {text: String(lb[0]), fill: '#f5f5f5', fontSize: 17.5, fontFamily: 'DejaVu Sans',
          align: 'center', verticalAlign: 'middle', backgroundColor: bg, padding: [0, 4]}});
    });
    return {type: 'group', children: ch};
  };
}

// ---------- build option ----------
const mctx = document.createElement('canvas').getContext('2d');
function textW(t, font) { mctx.font = font; return mctx.measureText(t).width; }
const titleFont = '16px "Liberation Sans"';
const yNameFont = '14px "Liberation Sans"';
const titleScale = 328 / textW(titleText, titleFont);
const yNameScale = 292 / textW(yNameText, yNameFont);

const grids = [], xAxes = [], yAxes = [], series = [], graphics = [];
const axisCol = '#222';
const labelStyle = {fontSize: 16, fontFamily: 'DejaVu Sans', color: '#111'};
panels.forEach((p, i) => {
  const row = Math.floor(i / 3), col = i % 3;
  const left = colLefts[row][col], top = rowTops[row], h = rowHeights[row];
  grids.push({left: left, top: top, width: PLOT_W, height: h, containLabel: false});
  const xBase = {gridIndex: i, type: 'value', min: 0, max: XMAX, z: 10, splitLine: {show: false},
    axisLine: {show: true, onZero: false, lineStyle: {color: axisCol, width: 1}}};
  xAxes.push(Object.assign({}, xBase, {position: 'top',
    axisTick: {show: true, inside: false, length: 6, customValues: xTicks, lineStyle: {color: axisCol}},
    axisLabel: Object.assign({show: true, margin: 6, customValues: xTicks}, labelStyle)}));
  xAxes.push(Object.assign({}, xBase, {position: 'bottom',
    axisTick: {show: true, inside: false, length: 7, customValues: xTicks, lineStyle: {color: axisCol}},
    axisLabel: {show: false}}));
  const yBase = {gridIndex: i, type: 'value', min: YMIN, max: 0, z: 10, splitLine: {show: false},
    axisLine: {show: true, onZero: false, lineStyle: {color: axisCol, width: 1}}};
  yAxes.push(Object.assign({}, yBase, {position: 'left',
    axisTick: {show: true, inside: false, length: 6, customValues: yTicks, lineStyle: {color: axisCol}},
    axisLabel: Object.assign({show: true, margin: 9, customValues: yTicks}, labelStyle)}));
  yAxes.push(Object.assign({}, yBase, {position: 'right',
    axisTick: {show: true, inside: false, length: 8, customValues: yTicks, lineStyle: {color: axisCol}},
    axisLabel: {show: false}}));
  series.push({type: 'custom', coordinateSystem: 'cartesian2d', xAxisIndex: 2 * i, yAxisIndex: 2 * i,
    clip: true, silent: true, z: 2, data: [[0, 0]], renderItem: makeRender(i)});
  graphics.push({type: 'text', x: left + PLOT_W / 2 - 2, y: titleYs[row], scaleX: titleScale, silent: true,
    style: {text: titleText, font: titleFont, fill: '#111', align: 'center', verticalAlign: 'middle'}});
  graphics.push({type: 'text', x: left - (row === 1 ? 60 : 63), y: top + h / 2, rotation: Math.PI / 2, scaleX: yNameScale, silent: true,
    style: {text: yNameText, font: yNameFont, fill: '#111', align: 'center', verticalAlign: 'middle'}});
  graphics.push({type: 'text', x: captionXY[i][0], y: captionXY[i][1], silent: true,
    style: {text: captions[i], font: '24px "DejaVu Serif"', fill: '#111', align: 'center', verticalAlign: 'middle'}});
});

const chart = echarts.init(document.getElementById('c'), null, {renderer: 'canvas', width: 1156, height: 1832});
chart.setOption({
  animation: false,
  backgroundColor: '#ffffff',
  grid: grids, xAxis: xAxes, yAxis: yAxes, series: series,
  graphic: {elements: graphics}
});
</script></body></html>
